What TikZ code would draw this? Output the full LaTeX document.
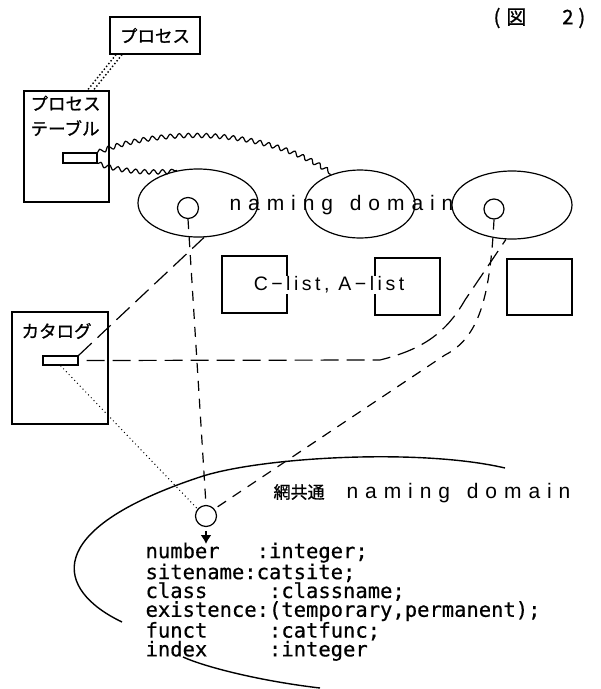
\documentclass[tikz,border=0pt]{standalone}
\usepackage{fontspec}
\newfontfamily\jpfont[FakeBold=1]{Noto Sans CJK JP}
\newfontfamily\spacedfont[LetterSpace=33]{Liberation Sans}
\newfontfamily\listfont[LetterSpace=18]{Liberation Sans}
\newfontfamily\codefont[FakeBold=0.6]{DejaVu Sans Mono}
\usetikzlibrary{arrows.meta,positioning,shapes.geometric,decorations.pathmorphing}

\begin{document}
\begin{tikzpicture}[x=1pt,y=-1pt,line width=1.2pt,
    every node/.style={inner sep=0pt},
    box/.style={draw,rectangle},
    domainoval/.style={draw,ellipse,minimum width=120pt,minimum height=68pt},
    port/.style={draw,rectangle,minimum width=35pt,minimum height=9pt},
    hole/.style={draw,circle,minimum size=21pt},
    jp/.style={font=\jpfont\fontsize{17.5}{25}\selectfont},
    wave/.style={decorate,decoration={snake,segment length=9pt,amplitude=2.2pt}},
    longdash/.style={dash pattern=on 18pt off 8pt},
    shortdash/.style={dash pattern=on 10pt off 8pt},
    densedots/.style={line width=1.4pt,dash pattern=on 1.4pt off 2.2pt},
    sparsedots/.style={line width=1pt,dash pattern=on 1pt off 3pt}]
  \useasboundingbox (0,0) rectangle (601,689);

  % process and its table
  \node[box,jp,minimum width=90pt,minimum height=37pt] (proc) at (155,35.5) {プロセス};
  \node[box,minimum width=85pt,minimum height=111pt] (ptab) at (66.5,146.5) {};
  \node[jp,align=left,anchor=north west] (ptabtext) at (30,95) {プロセス\\テーブル};
  \node[port,minimum width=34pt,minimum height=10pt] (pport) at (80,158) {};
  \draw[densedots] ([xshift=-3pt]proc.208) -- ([xshift=-3pt]ptab.67);
  \draw[densedots] ([xshift=3pt]proc.208) -- ([xshift=3pt]ptab.67);

  \node[font=\jpfont\fontsize{20}{22}\selectfont,anchor=west] (fig) at (493,18) {(\hspace{6pt}図\hspace{36pt}2\hspace{5pt})};

  % naming domains
  \node[domainoval] (d1) at (198,203) {};
  \node[domainoval,minimum width=110pt] (d2) at (360,204) {};
  \node[domainoval] (d3) at (512,205) {};
  \node[hole] (h1) at (188,208) {};
  \node[hole,minimum size=20pt] (h3) at (494,209) {};
  \node[anchor=west,font=\spacedfont\fontsize{21}{24}\selectfont] (dname) at (229,205) {naming\hspace{4pt} domain};

  \draw[wave] (pport.north east) .. controls (160,128) and (265,128) .. (d2.135);
  \draw[wave] (pport.south east) .. controls (125,172) and (145,172) .. (d1.123);

  % lists
  \node[box,minimum width=65pt,minimum height=57pt] (cl1) at (254.5,284.5) {};
  \node[box,minimum width=65pt,minimum height=57pt] (cl2) at (407.5,286.5) {};
  \node[box,minimum width=65pt,minimum height=56pt] (cl3) at (539.5,287) {};
  \node[fill=white,inner sep=1pt,font=\listfont\fontsize{19.5}{20}\selectfont] (clist) at (329,285) {C−list, A−list};

  % catalog
  \node[box,minimum width=96pt,minimum height=112pt] (cat) at (60,368) {};
  \node[jp,anchor=west] (cattext) at (21,331) {カタログ};
  \node[port] (cport) at (60.5,360.5) {};

  % network-wide domain
  \draw[line width=1.4pt] (122,622) .. controls (55,590) and (40,530) .. (200,477)
    .. controls (260,457) and (420,448) .. (505,468);
  \draw[line width=1.4pt] (183,657) .. controls (205,667) and (260,681) .. (320,688);
  \node[hole] (hb) at (206,516) {};
  \node[anchor=west] (ndomain) at (273,493) {{\jpfont\fontsize{17}{20}\selectfont 網共通}\hspace{22pt}{\spacedfont\fontsize{21}{24}\selectfont naming\hspace{4pt} domain}};
  \node[anchor=north west,align=left,font=\codefont\fontsize{20.5}{18.8}\selectfont] (code) at (145,542) {%
    number~~~:integer;\\
    sitename:catsite;\\
    class~~~~~:classname;\\
    existence:(temporary,permanent);\\
    funct~~~~~:catfunc;\\
    index~~~~~:integer};
  \coordinate (codetop) at (206,544);
  \draw[-{Latex[length=9pt,width=11pt]},line width=2.4pt,shorten <=4pt] (hb.south) -- (codetop);

  % references
  \draw[longdash] (cport.north east) -- (d1.-80);
  \draw[longdash,shorten <=8pt] (cport.east) -- (380,360) .. controls (420,350) and (445,335) .. (465,300) -- (d3.-100);
  \draw[shortdash] (h1.south) -- (hb.north);
  \draw[shortdash] (h3.south) .. controls (490,300) and (478,338) .. (445,355) -- (hb.40);
  \draw[sparsedots] (cport.south) -- (hb.140);
\end{tikzpicture}
\end{document}
